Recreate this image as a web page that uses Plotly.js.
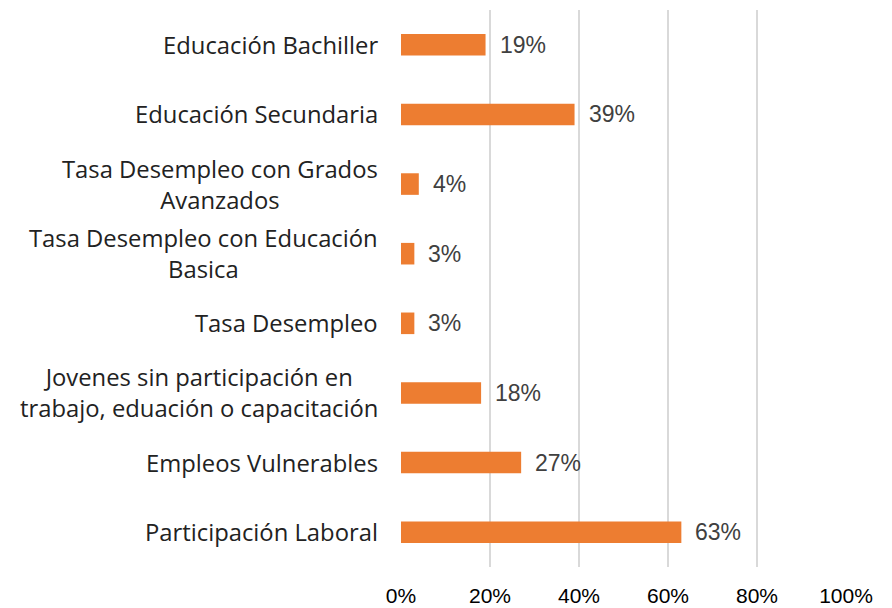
<!DOCTYPE html>
<html>
<head>
<meta charset="utf-8">
<script src="https://cdn.plot.ly/plotly-3.0.1.min.js"></script>
<style>html,body{margin:0;padding:0;background:#fff;}#chart{width:892px;height:608px;}</style>
</head>
<body>
<div id="chart"></div>
<script>
var categories = [
  "Educación Bachiller",
  "Educación Secundaria",
  "Tasa Desempleo con Grados<br>Avanzados",
  "Tasa Desempleo con Educación<br>Basica",
  "Tasa Desempleo",
  "Jovenes sin participación en<br>trabajo, eduación o capacitación",
  "Empleos Vulnerables",
  "Participación Laboral"
];
var values = [19, 39, 4, 3, 3, 18, 27, 63];
var tickValues = [0, 20, 40, 60, 80, 100];
var tickLabels = ["0%", "20%", "40%", "60%", "80%", "100%"];

var trace = {
  type: "bar",
  orientation: "h",
  x: values,
  y: categories,
  marker: {color: "#ED7D31"},
  hoverinfo: "none"
};

var annotations = [];
categories.forEach(function(c, i) {
  annotations.push({
    xref: "x", yref: "y", x: values[i], y: c,
    text: values[i] + "%", showarrow: false,
    xanchor: "left", yanchor: "middle", xshift: 12,
    font: {family: "Liberation Sans, Arial, sans-serif", size: 23, color: "#404040"}
  });
  annotations.push({
    xref: "paper", yref: "y", x: 0, y: c,
    text: c, showarrow: false,
    xanchor: "right", yanchor: "middle", xshift: -21, align: "center",
    font: {family: "Open Sans, sans-serif", size: 23.8, color: "#222222"}
  });
});

var layout = {
  width: 892, height: 608,
  margin: {l: 401, r: 46, t: 10, b: 41, pad: 0},
  paper_bgcolor: "#ffffff", plot_bgcolor: "#ffffff",
  showlegend: false,
  bargap: 0.69,
  xaxis: {
    range: [0, 100], tickvals: tickValues, ticktext: tickLabels,
    showgrid: true, gridcolor: "#d9d9d9", gridwidth: 2.5,
    zeroline: false, showline: false, ticks: "",
    ticklabelstandoff: 14,
    tickfont: {family: "Liberation Sans, Arial, sans-serif", size: 21, color: "#000000"},
    fixedrange: true
  },
  yaxis: {
    autorange: "reversed", showticklabels: false, showgrid: false,
    zeroline: false, showline: false, ticks: "", fixedrange: true
  },
  annotations: annotations
};

Plotly.newPlot("chart", [trace], layout, {displayModeBar: false, staticPlot: true});
</script>
</body>
</html>
